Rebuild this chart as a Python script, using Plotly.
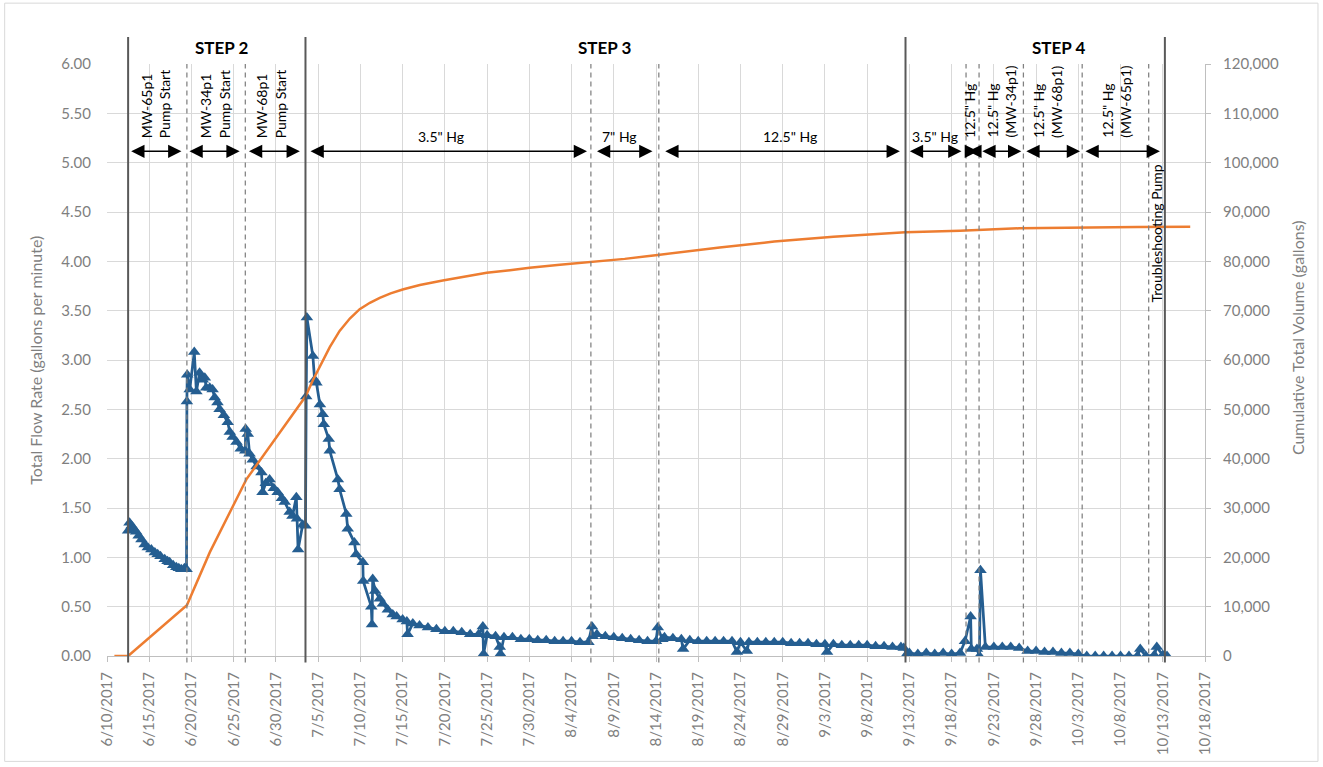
import plotly.graph_objects as go

# ---------------- data ----------------
flow_dates = [
    "2017-06-12 12:00", "2017-06-12 16:00", "2017-06-12 22:00", "2017-06-13 04:00", "2017-06-13 11:00",
    "2017-06-13 18:00", "2017-06-14 02:00", "2017-06-14 11:00", "2017-06-14 20:00", "2017-06-15 06:00",
    "2017-06-15 16:00", "2017-06-16 00:00", "2017-06-16 08:00", "2017-06-16 20:00", "2017-06-17 04:00",
    "2017-06-17 10:00", "2017-06-17 20:00", "2017-06-18 05:00", "2017-06-18 12:00", "2017-06-18 19:00",
    "2017-06-19 04:00", "2017-06-19 10:00",
    "2017-06-19 11:00", "2017-06-19 12:00", "2017-06-19 19:00", "2017-06-20 08:00", "2017-06-20 14:00",
    "2017-06-20 23:00", "2017-06-21 08:00", "2017-06-21 14:00", "2017-06-21 18:00", "2017-06-22 04:00",
    "2017-06-22 12:00", "2017-06-22 18:00", "2017-06-23 02:00", "2017-06-23 08:00", "2017-06-23 20:00",
    "2017-06-24 07:00", "2017-06-24 13:00", "2017-06-24 21:00", "2017-06-25 08:00", "2017-06-25 20:00",
    "2017-06-26 09:00", "2017-06-26 10:00", "2017-06-26 16:00", "2017-06-26 21:00", "2017-06-27 06:00",
    "2017-06-27 17:00", "2017-06-28 07:00", "2017-06-28 10:00", "2017-06-28 19:00", "2017-06-29 06:00",
    "2017-06-29 18:00", "2017-06-30 05:00", "2017-06-30 17:00", "2017-07-01 01:00", "2017-07-01 15:00",
    "2017-07-01 23:00", "2017-07-02 10:00", "2017-07-02 12:00", "2017-07-02 15:00", "2017-07-03 04:00",
    "2017-07-03 12:00",
    "2017-07-03 14:00", "2017-07-03 16:00", "2017-07-04 09:00", "2017-07-04 14:00", "2017-07-04 19:00",
    "2017-07-05 05:00", "2017-07-05 13:00", "2017-07-05 16:00", "2017-07-06 06:00", "2017-07-06 09:00",
    "2017-07-07 08:00", "2017-07-07 13:00", "2017-07-08 08:00", "2017-07-08 12:00", "2017-07-09 07:00",
    "2017-07-09 12:00", "2017-07-10 07:00", "2017-07-10 08:00", "2017-07-11 07:00", "2017-07-11 09:00",
    "2017-07-11 11:00", "2017-07-11 18:00", "2017-07-12 07:00", "2017-07-12 16:00", "2017-07-13 06:00",
    "2017-07-13 20:00", "2017-07-14 07:00", "2017-07-15 00:00", "2017-07-15 12:00", "2017-07-15 14:00",
    "2017-07-16 05:00",
    "2017-07-17", "2017-07-18", "2017-07-19", "2017-07-20", "2017-07-21", "2017-07-22", "2017-07-23",
    "2017-07-24 00:00", "2017-07-24 12:00", "2017-07-24 14:00", "2017-07-25", "2017-07-26 00:00",
    "2017-07-26 12:00", "2017-07-26 14:00", "2017-07-27", "2017-07-28", "2017-07-29", "2017-07-30",
    "2017-07-31", "2017-08-01", "2017-08-02", "2017-08-03", "2017-08-04", "2017-08-05",
    "2017-08-06 00:00", "2017-08-06 10:00", "2017-08-06 12:00", "2017-08-07", "2017-08-08", "2017-08-09",
    "2017-08-10", "2017-08-11", "2017-08-12", "2017-08-13", "2017-08-14 00:00", "2017-08-14 05:00",
    "2017-08-14 18:00", "2017-08-15", "2017-08-16", "2017-08-17 00:00", "2017-08-17 05:00", "2017-08-18",
    "2017-08-19", "2017-08-20", "2017-08-21", "2017-08-22", "2017-08-23 00:00", "2017-08-23 14:00",
    "2017-08-24 00:00", "2017-08-24 18:00", "2017-08-25", "2017-08-26", "2017-08-27", "2017-08-28",
    "2017-08-29", "2017-08-30", "2017-08-31", "2017-09-01", "2017-09-02", "2017-09-03 00:00",
    "2017-09-03 06:00", "2017-09-04", "2017-09-05", "2017-09-06", "2017-09-07", "2017-09-08",
    "2017-09-09", "2017-09-10", "2017-09-11", "2017-09-12 00:00", "2017-09-12 08:00", "2017-09-12 17:00",
    "2017-09-13", "2017-09-14", "2017-09-15", "2017-09-16", "2017-09-17", "2017-09-18", "2017-09-19 00:00",
    "2017-09-19 14:00", "2017-09-20 06:00", "2017-09-20 08:00", "2017-09-21 00:00", "2017-09-21 07:00",
    "2017-09-21 10:00", "2017-09-22", "2017-09-23", "2017-09-24", "2017-09-25", "2017-09-26",
    "2017-09-27", "2017-09-28", "2017-09-29", "2017-09-30", "2017-10-01", "2017-10-02", "2017-10-03",
    "2017-10-04", "2017-10-05", "2017-10-06", "2017-10-07", "2017-10-08", "2017-10-09",
    "2017-10-10 00:00", "2017-10-10 08:00", "2017-10-11", "2017-10-12 00:00", "2017-10-12 07:00",
    "2017-10-13 00:00", "2017-10-13 12:00",
]
flow_rates = [
    1.27, 1.35, 1.32, 1.29, 1.26,
    1.22, 1.18, 1.13, 1.10, 1.08,
    1.05, 1.03, 1.01, 0.98, 0.96,
    0.95, 0.92, 0.90, 0.89, 0.88,
    0.89, 0.88,
    2.58, 2.85, 2.70, 3.08, 2.68,
    2.87, 2.80, 2.82, 2.72, 2.72,
    2.70, 2.62, 2.57, 2.50, 2.44,
    2.37, 2.27, 2.22, 2.17, 2.10,
    2.08, 2.30, 2.25, 2.05, 1.99,
    1.92, 1.86, 1.66, 1.75, 1.79,
    1.70, 1.66, 1.60, 1.56, 1.46,
    1.42, 1.61, 1.39, 1.08, 1.33,
    1.32,
    2.63, 3.43, 3.04, 2.80, 2.77,
    2.55, 2.45, 2.35, 2.20, 2.08,
    1.79, 1.69, 1.44, 1.29, 1.15,
    1.03, 0.95, 0.76, 0.50, 0.32,
    0.78, 0.66, 0.58, 0.53, 0.47,
    0.42, 0.40, 0.37, 0.35, 0.22,
    0.33,
    0.31, 0.29, 0.27, 0.25, 0.25, 0.24, 0.22,
    0.22, 0.30, 0.02, 0.21, 0.20,
    0.09, 0.02, 0.19, 0.19, 0.17, 0.17,
    0.16, 0.16, 0.15, 0.15, 0.15, 0.14,
    0.14, 0.30, 0.20, 0.22, 0.20, 0.19,
    0.18, 0.17, 0.16, 0.15, 0.15, 0.29,
    0.17, 0.19, 0.18, 0.17, 0.07, 0.16,
    0.15, 0.15, 0.15, 0.15, 0.15, 0.04,
    0.14, 0.05, 0.14, 0.14, 0.14, 0.14,
    0.14, 0.13, 0.13, 0.13, 0.12, 0.12,
    0.04, 0.12, 0.11, 0.11, 0.11, 0.11,
    0.10, 0.10, 0.09, 0.09, 0.08, 0.02,
    0.03, 0.02, 0.03, 0.02, 0.03, 0.02, 0.03,
    0.15, 0.40, 0.07, 0.07, 0.00,
    0.87, 0.09, 0.09, 0.09, 0.09, 0.08,
    0.05, 0.05, 0.04, 0.04, 0.03, 0.03, 0.02,
    0.00, 0.00, 0.00, 0.00, 0.00, 0.00,
    0.00, 0.07, 0.00, 0.01, 0.09,
    0.01, 0.00,
]

volume_dates = [
    "2017-06-10 21:00", "2017-06-12 12:00", "2017-06-19 11:00", "2017-06-22 04:00", "2017-06-26 12:00",
    "2017-06-30 16:00", "2017-07-03 12:00", "2017-07-04 09:00", "2017-07-05 05:00", "2017-07-06 09:00",
    "2017-07-07 13:00", "2017-07-08 18:00", "2017-07-09 22:00", "2017-07-11 03:00", "2017-07-12 07:00",
    "2017-07-13 14:00", "2017-07-15 00:00", "2017-07-17 01:00", "2017-07-19 18:00", "2017-07-22 09:00",
    "2017-07-24 23:00", "2017-07-27 17:00", "2017-07-30 01:00", "2017-08-02 15:00", "2017-08-06 04:00",
    "2017-08-10 07:00", "2017-08-14 05:00", "2017-08-18 00:00", "2017-08-21 13:00", "2017-08-28 00:00",
    "2017-09-04 00:00", "2017-09-12 12:00", "2017-09-19 00:00", "2017-09-26 00:00", "2017-10-03 00:00",
    "2017-10-10 00:00", "2017-10-16 06:00",
]
cumulative_volume = [
    0, 0, 10300, 21000, 35800,
    45900, 52600, 55900, 58800, 62600,
    65900, 68400, 70300, 71600, 72600,
    73500, 74300, 75200, 76100, 76900,
    77700, 78200, 78700, 79300, 79800,
    80500, 81300, 82100, 82800, 84000,
    85000, 85900, 86200, 86700, 86900,
    86950, 87000,
]

# phase boundaries (solid) and sub-phase boundaries (dashed)
step_boundaries = ["2017-06-12 12:00", "2017-07-03 12:00", "2017-09-12 13:00", "2017-10-13 06:00"]
event_boundaries = ["2017-06-19 11:00", "2017-06-26 09:00", "2017-08-06 07:00", "2017-08-14 08:00",
                    "2017-09-19 17:00", "2017-09-21 06:00", "2017-09-26 12:00", "2017-10-03 11:00",
                    "2017-10-11 08:00"]

step_labels = ["STEP 2", "STEP 3", "STEP 4"]
step_label_dates = ["2017-06-23 14:00", "2017-08-07 23:00", "2017-09-30 17:00"]

arrow_starts = ["2017-06-12 16:30", "2017-06-19 14:00", "2017-06-26 15:00", "2017-07-03 22:00",
                "2017-08-06 20:00", "2017-08-14 22:00", "2017-09-12 21:00", "2017-09-19 19:00",
                "2017-09-21 11:00", "2017-09-26 16:00", "2017-10-03 16:00"]
arrow_ends = ["2017-06-18 19:30", "2017-06-25 17:00", "2017-07-02 20:00", "2017-08-05 20:00",
              "2017-08-13 14:00", "2017-09-11 21:00", "2017-09-19 04:00", "2017-09-21 03:00",
              "2017-09-26 06:00", "2017-10-03 05:00", "2017-10-12 16:00"]

flat_labels = ['3.5" Hg', '7" Hg', '12.5" Hg', '3.5" Hg']
flat_label_dates = ["2017-07-19 14:00", "2017-08-09 15:00", "2017-08-29 20:00", "2017-09-16 00:30"]

rot_labels = ["MW-65p1<br>Pump Start", "MW-34p1<br>Pump Start", "MW-68p1<br>Pump Start",
              '12.5" Hg', '12.5" Hg<br>(MW-34p1)', '12.5" Hg<br>(MW-68p1)', '12.5" Hg<br>(MW-65p1)']
rot_label_dates = ["2017-06-15 20:00", "2017-06-22 20:00", "2017-06-29 11:00",
                   "2017-09-20 04:00", "2017-09-23 22:00", "2017-09-29 10:00", "2017-10-07 13:00"]

# ---------------- figure ----------------
GRAY = "#7f7f7f"
GRID = "#d9d9d9"
FONT = "Lato"
BLUE = "#255E91"
ORANGE = "#ED7D31"

fig = go.Figure()
fig.add_trace(go.Scatter(
    x=flow_dates, y=flow_rates, mode="lines+markers", yaxis="y",
    line=dict(color=BLUE, width=2.75),
    marker=dict(symbol="triangle-up", size=11, color=BLUE),
    showlegend=False, name="Total Flow Rate"))
fig.add_trace(go.Scatter(
    x=volume_dates, y=cumulative_volume, mode="lines", yaxis="y2",
    line=dict(color=ORANGE, width=2.5),
    showlegend=False, name="Cumulative Total Volume"))

shapes = []
for d in event_boundaries:
    shapes.append(dict(type="line", xref="x", yref="paper", x0=d, x1=d, y0=-0.011, y1=1.0,
                       line=dict(color="#808080", width=1.25, dash="5px,4px")))
for d in step_boundaries:
    shapes.append(dict(type="line", xref="x", yref="paper", x0=d, x1=d, y0=-0.011, y1=1.0454,
                       line=dict(color="#595959", width=2)))
shapes.append(dict(type="rect", xref="paper", yref="paper", x0=-0.0932, x1=1.1029, y0=-0.178, y1=1.1028,
                   line=dict(color=GRID, width=1), layer="below"))

ARROW_Y = 5.115
annotations = []
for s, e in zip(arrow_starts, arrow_ends):
    annotations.append(dict(
        x=e, y=ARROW_Y, ax=s, ay=ARROW_Y, xref="x", yref="y", axref="x", ayref="y",
        text="", showarrow=True, arrowhead=2, startarrowhead=2, arrowside="end+start",
        arrowsize=1.9, startarrowsize=1.9, arrowwidth=1.4, arrowcolor="black",
        standoff=0, startstandoff=0))

for t, d in zip(flat_labels, flat_label_dates):
    annotations.append(dict(x=d, y=5.27, xref="x", yref="y", text=t, showarrow=False,
                            font=dict(family=FONT, size=14, color="black"),
                            xanchor="center", yanchor="middle"))

for t, d in zip(rot_labels, rot_label_dates):
    annotations.append(dict(x=d, y=5.23, xref="x", yref="y", text=t, showarrow=False,
                            textangle=-90, align="left",
                            font=dict(family=FONT, size=14, color="black"),
                            xanchor="center", yanchor="bottom"))

annotations.append(dict(x="2017-10-12 07:00", y=3.56, xref="x", yref="y", text="Troubleshooting Pump",
                        showarrow=False, textangle=-90, font=dict(family=FONT, size=14, color="black"),
                        xanchor="center", yanchor="bottom"))

for t, d in zip(step_labels, step_label_dates):
    annotations.append(dict(x=d, y=1.0285, xref="x", yref="paper", text="<b>" + t + "</b>",
                            showarrow=False, font=dict(family=FONT, size=17, color="black"),
                            xanchor="center", yanchor="middle"))

annotations.append(dict(x=-0.0659, y=0.5, xref="paper", yref="paper",
                        text="Total Flow Rate (gallons per minute)", showarrow=False, textangle=-90,
                        font=dict(family=FONT, size=16, color=GRAY), xanchor="center", yanchor="middle"))
annotations.append(dict(x=1.0838, y=0.537, xref="paper", yref="paper",
                        text="Cumulative Total Volume (gallons)", showarrow=False, textangle=-90,
                        font=dict(family=FONT, size=16, color=GRAY), xanchor="center", yanchor="middle"))

fig.update_layout(
    width=1323, height=767,
    margin=dict(l=107, r=118, t=64, b=111),
    paper_bgcolor="white", plot_bgcolor="white",
    font=dict(family=FONT, size=15, color=GRAY),
    showlegend=False,
    shapes=shapes,
    annotations=annotations,
    xaxis=dict(type="date", range=["2017-06-10", "2017-10-18"], tick0="2017-06-10",
               dtick=5 * 86400000, tickformat="%-m/%-d/%Y", tickangle=-90,
               showgrid=True, gridcolor=GRID, gridwidth=1, zeroline=False,
               showline=True, linecolor="#bfbfbf", ticks="outside", ticklen=5, tickcolor="#bfbfbf",
               ticklabelstandoff=4, tickfont=dict(family=FONT, size=15, color=GRAY)),
    yaxis=dict(range=[0, 6], dtick=0.5, tickformat=".2f", showgrid=True, gridcolor=GRID,
               zeroline=False, showline=False, ticks="", ticklabelstandoff=15,
               tickfont=dict(family=FONT, size=15, color=GRAY)),
    yaxis2=dict(range=[0, 120000], dtick=10000, tickformat=",", overlaying="y", side="right",
                showgrid=False, zeroline=False, showline=True, linecolor="#bfbfbf",
                ticks="outside", ticklen=5, tickcolor="#bfbfbf", ticklabelstandoff=9,
                tickfont=dict(family=FONT, size=15, color=GRAY)),
)

fig.write_html("out.html", config={"displayModeBar": False},
               post_script="document.body.style.margin='0';document.body.style.overflow='hidden';")
